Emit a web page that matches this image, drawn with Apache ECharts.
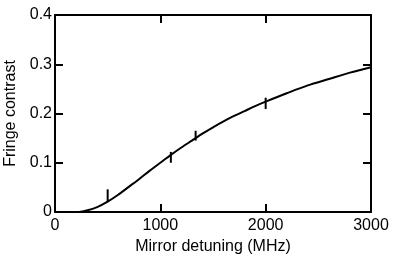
<!DOCTYPE html>
<html><head><meta charset="utf-8">
<script src="https://cdn.jsdelivr.net/npm/echarts@6/dist/echarts.min.js"></script>
<style>html,body{margin:0;padding:0;background:#fff}#c{width:395px;height:257px}</style>
</head><body><div id="c"></div>
<script>
var curveX = [230, 300, 400, 500, 600, 700, 800, 900, 1000, 1100, 1200, 1300, 1400, 1500, 1600, 1700, 1800, 1900, 2000, 2200, 2400, 2600, 2800, 3000];
var curveY = [0, 0.003, 0.010, 0.021, 0.035, 0.051, 0.067, 0.084, 0.100, 0.116, 0.131, 0.145, 0.159, 0.172, 0.184, 0.195, 0.205, 0.215, 0.224, 0.241, 0.257, 0.270, 0.283, 0.294];
var errX = [500, 1100, 1335, 2000];
var errLow = [0.021, 0.100, 0.145, 0.209];
var errHigh = [0.046, 0.122, 0.165, 0.232];
var xTicks = [0, 1000, 2000, 3000];
var yTicks = [0, 0.1, 0.2, 0.3, 0.4];

var font = 'Liberation Sans, Arial, Helvetica, sans-serif';
var fs = 16;
var chart = echarts.init(document.getElementById('c'), null, {renderer: 'canvas'});
var curve = curveX.map(function (x, i) { return [x, curveY[i]]; });
var errs = errX.map(function (x, i) { return [x, errLow[i], errHigh[i]]; });
var axisLine = {show: true, onZero: false, lineStyle: {color: '#000', width: 2}};
var tick = {show: true, inside: true, length: 8, lineStyle: {color: '#000', width: 2}};
chart.setOption({
  animation: false,
  grid: {left: 55, right: 24, top: 15, bottom: 45, containLabel: false, outerBoundsMode: 'none'},
  xAxis: [{
    type: 'value', min: xTicks[0], max: xTicks[xTicks.length - 1], interval: 1000,
    position: 'bottom',
    name: 'Mirror detuning (MHz)', nameLocation: 'middle', nameGap: 24,
    nameTextStyle: {color: '#000', fontSize: fs, fontFamily: font},
    axisLine: axisLine, axisTick: tick, splitLine: {show: false},
    axisLabel: {color: '#000', fontSize: fs, fontFamily: font, margin: 6,
      formatter: function (v) { return String(v); }}
  }, {
    type: 'value', min: xTicks[0], max: xTicks[xTicks.length - 1], interval: 1000,
    position: 'top', axisLine: axisLine, axisTick: tick, splitLine: {show: false},
    axisLabel: {show: false}
  }],
  yAxis: [{
    type: 'value', min: yTicks[0], max: yTicks[yTicks.length - 1], interval: 0.1,
    position: 'left',
    name: 'Fringe contrast', nameLocation: 'middle', nameGap: 34,
    nameTextStyle: {color: '#000', fontSize: fs, fontFamily: font},
    axisLine: axisLine, axisTick: tick, splitLine: {show: false},
    axisLabel: {color: '#000', fontSize: fs, fontFamily: font, margin: 3,
      formatter: function (v) { return String(v); }}
  }, {
    type: 'value', min: yTicks[0], max: yTicks[yTicks.length - 1], interval: 0.1,
    position: 'right', axisLine: axisLine, axisTick: tick, splitLine: {show: false},
    axisLabel: {show: false}
  }],
  series: [{
    type: 'line', data: curve, smooth: 0.3, showSymbol: false, symbol: 'none',
    lineStyle: {color: '#000', width: 2}, xAxisIndex: 0, yAxisIndex: 0, z: 3
  }, {
    type: 'custom', xAxisIndex: 0, yAxisIndex: 0, z: 4,
    data: errs,
    renderItem: function (params, api) {
      var p1 = api.coord([api.value(0), api.value(1)]);
      var p2 = api.coord([api.value(0), api.value(2)]);
      return {type: 'line', shape: {x1: p1[0], y1: p1[1], x2: p2[0], y2: p2[1]},
        style: {stroke: '#000', lineWidth: 2}};
    }
  }]
});
</script></body></html>
